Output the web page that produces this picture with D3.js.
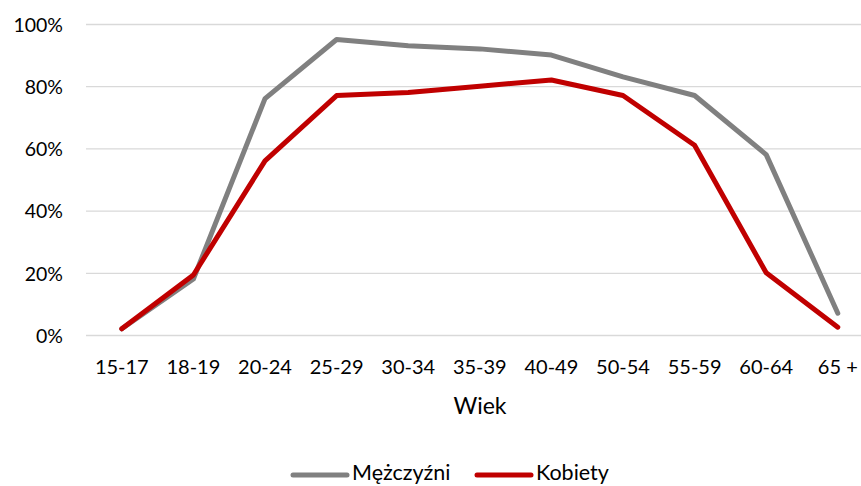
<!DOCTYPE html>
<html>
<head>
<meta charset="utf-8">
<script src="https://cdn.jsdelivr.net/npm/d3@7"></script>
<style>
  body { margin: 0; background: #fff; }
  text { font-family: Lato, "Open Sans", sans-serif; fill: #000; }
</style>
</head>
<body>
<div id="chart"></div>
<script>
// Age groups and participation rates
var categories = ["15-17", "18-19", "20-24", "25-29", "30-34", "35-39", "40-49", "50-54", "55-59", "60-64", "65 +"];
var men = [0.02, 0.18, 0.76, 0.95, 0.93, 0.92, 0.90, 0.83, 0.77, 0.58, 0.07];
var women = [0.02, 0.193, 0.56, 0.77, 0.78, 0.80, 0.82, 0.77, 0.61, 0.20, 0.025];
var yTicks = [0, 0.2, 0.4, 0.6, 0.8, 1];
var seriesNames = ["Mężczyźni", "Kobiety"];

var width = 861, height = 486;
var colors = ["#808080", "#c00000"];

var svg = d3.select("#chart").append("svg")
  .attr("width", width)
  .attr("height", height);

// Scales
var x = d3.scaleBand().domain(categories).range([86, 86 + 11 * 71.6]);
var y = d3.scaleLinear().domain([0, 1]).range([335, 24]);
var cx = d => x(d) + x.bandwidth() / 2;

// Y axis with gridlines
var yAxis = svg.append("g")
  .attr("transform", "translate(86,0)")
  .call(d3.axisLeft(y).tickValues(yTicks).tickFormat(d3.format(".0%"))
    .tickSize(-(x.range()[1] - 86)).tickPadding(23));
yAxis.select(".domain").remove();
yAxis.selectAll(".tick line").attr("stroke", "#d9d9d9").attr("stroke-width", 1.3);
yAxis.selectAll(".tick text").attr("font-size", "19.5px").attr("dy", "0.37em").style("font-family", "Lato, sans-serif");

// X axis
var xAxis = svg.append("g")
  .attr("transform", "translate(0,335)")
  .call(d3.axisBottom(x).tickSize(0).tickPadding(25));
xAxis.select(".domain").remove();
xAxis.selectAll(".tick text").attr("font-size", "20px").style("font-family", "Lato, sans-serif");

svg.append("text")
  .attr("x", 480)
  .attr("y", 414)
  .attr("text-anchor", "middle")
  .attr("font-size", "23px")
  .text("Wiek");

// Lines
var line = d3.line()
  .x((d, i) => cx(categories[i]))
  .y(d => y(d));

[men, women].forEach(function(values, i) {
  svg.append("path")
    .datum(values)
    .attr("fill", "none")
    .attr("stroke", colors[i])
    .attr("stroke-width", 5)
    .attr("stroke-linejoin", "round")
    .attr("stroke-linecap", "round")
    .attr("d", line);
});

// Legend (kept just inside the bottom edge)
var legendX = [293, 477];
seriesNames.forEach(function(name, i) {
  var g = svg.append("g").attr("transform", "translate(" + legendX[i] + ",475)");
  g.append("line")
    .attr("x1", 0).attr("x2", 54)
    .attr("stroke", colors[i])
    .attr("stroke-width", 5)
    .attr("stroke-linecap", "round");
  g.append("text")
    .attr("x", 59)
    .attr("y", 5)
    .attr("font-size", "21.5px")
    .text(name);
});
</script>
</body>
</html>
